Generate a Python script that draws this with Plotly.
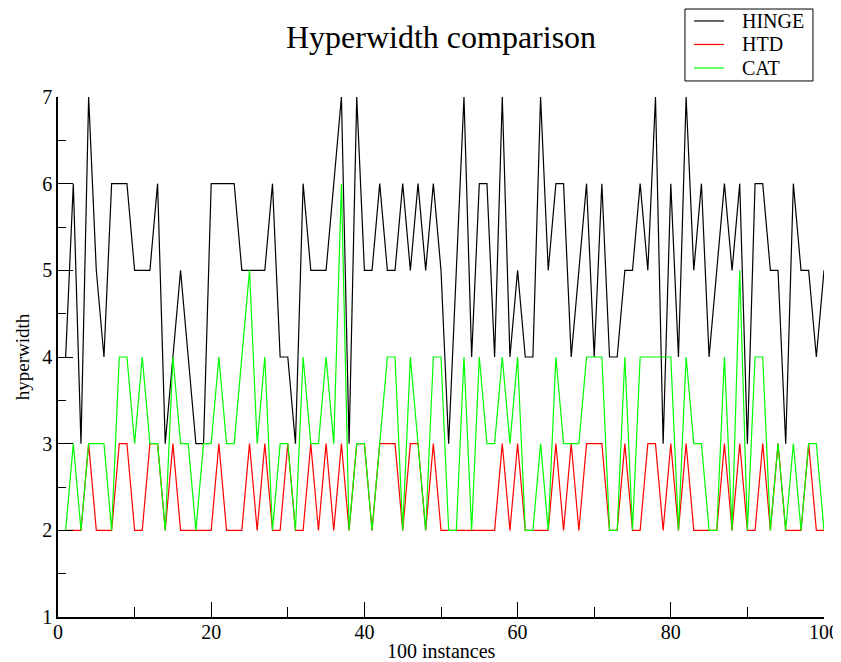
import plotly.graph_objects as go

instances = list(range(1, 101))

hinge = [4, 6, 3, 7, 5, 4, 6, 6, 6, 5,
         5, 5, 6, 3, 4, 5, 4, 3, 3, 6,
         6, 6, 6, 5, 5, 5, 5, 6, 4, 4,
         3, 6, 5, 5, 5, 6, 7, 3, 7, 5,
         5, 6, 5, 5, 6, 5, 6, 5, 6, 5,
         3, 5, 7, 4, 6, 6, 4, 7, 4, 5,
         4, 4, 7, 5, 6, 6, 4, 5, 6, 4,
         6, 4, 4, 5, 5, 6, 5, 7, 3, 6,
         4, 7, 5, 6, 4, 5, 6, 5, 6, 3,
         6, 6, 5, 5, 3, 6, 5, 5, 4, 5]

htd = [2, 2, 2, 3, 2, 2, 2, 3, 3, 2,
       2, 3, 3, 2, 3, 2, 2, 2, 2, 2,
       3, 2, 2, 2, 3, 2, 3, 2, 2, 3,
       2, 2, 3, 2, 3, 2, 3, 2, 3, 3,
       2, 3, 3, 3, 2, 3, 3, 2, 3, 2,
       2, 2, 2, 2, 2, 2, 2, 3, 2, 3,
       2, 2, 2, 2, 3, 2, 3, 2, 3, 3,
       3, 2, 2, 3, 2, 2, 3, 3, 2, 3,
       2, 3, 2, 2, 2, 2, 3, 2, 3, 2,
       2, 3, 2, 3, 2, 2, 2, 3, 2, 2]

cat = [2, 3, 2, 3, 3, 3, 2, 4, 4, 3,
       4, 3, 3, 2, 4, 3, 3, 2, 3, 3,
       4, 3, 3, 4, 5, 3, 4, 2, 3, 3,
       2, 4, 3, 3, 4, 3, 6, 2, 3, 3,
       2, 3, 4, 4, 2, 4, 3, 2, 4, 4,
       2, 2, 4, 2, 4, 3, 3, 4, 3, 4,
       2, 2, 3, 2, 4, 3, 3, 3, 4, 4,
       4, 2, 2, 4, 2, 4, 4, 4, 4, 4,
       2, 4, 3, 3, 2, 2, 4, 2, 5, 2,
       4, 4, 2, 3, 2, 3, 2, 3, 3, 2]

series_names = ["HINGE", "HTD", "CAT"]
series_colors = ["#000000", "#ff0000", "#00ff00"]
x_ticks = [0, 20, 40, 60, 80, 100]
y_ticks = [1, 2, 3, 4, 5, 6, 7]

FONT = "Liberation Serif"

fig = go.Figure()
for name, vals, col in zip(series_names, [hinge, htd, cat], series_colors):
    fig.add_trace(go.Scatter(x=instances, y=vals, mode="lines", name=name,
                             line=dict(color=col, width=1.2), showlegend=False))

# Legend box drawn in paper coordinates (compact, xmgrace-style)
legend_rows_y = [1.1462, 1.1010, 1.0558]
fig.add_shape(type="rect", xref="paper", yref="paper",
              x0=0.8185, x1=0.9856, y0=1.0308, y1=1.1692,
              line=dict(color="black", width=1), fillcolor="white")
for name, col, yy in zip(series_names, series_colors, legend_rows_y):
    fig.add_shape(type="line", xref="paper", yref="paper",
                  x0=0.8303, x1=0.8695, y0=yy, y1=yy,
                  line=dict(color=col, width=1.2))
    fig.add_annotation(text=name, xref="paper", yref="paper", x=0.8903, y=yy,
                       xanchor="left", yanchor="middle", showarrow=False,
                       font=dict(family=FONT, size=20, color="black"))

# x-axis title
fig.add_annotation(text="100 instances", xref="paper", yref="paper", x=0.5, y=-0.0654,
                   xanchor="center", yanchor="middle", showarrow=False,
                   font=dict(family=FONT, size=20, color="black"))

fig.update_layout(
    width=833, height=654,
    margin=dict(l=50, r=17, t=89, b=45, autoexpand=False),
    plot_bgcolor="white", paper_bgcolor="white",
    font=dict(family=FONT, color="black", size=20),
    title=dict(text="Hyperwidth comparison", x=0.5, xanchor="center",
               xref="paper", y=0.956, yanchor="middle",
               font=dict(family=FONT, size=32, color="black")),
    showlegend=False,
)

fig.update_xaxes(
    range=[0, 100], tickvals=x_ticks, ticktext=[str(v) for v in x_ticks],
    ticks="inside", ticklen=15, tickwidth=1, tickcolor="black",
    minor=dict(dtick=10, tick0=0, ticks="inside", ticklen=10, tickwidth=1, tickcolor="black"),
    showline=True, linecolor="black", linewidth=1.5, mirror=False,
    showgrid=False, zeroline=False, automargin=False,
    ticklabelstandoff=-4, ticklabeloverflow="allow",
    tickfont=dict(family=FONT, size=20, color="black"),
)
fig.update_yaxes(
    range=[1, 7], tickvals=y_ticks, ticktext=[str(v) for v in y_ticks],
    ticks="inside", ticklen=15, tickwidth=1, tickcolor="black",
    minor=dict(dtick=0.5, tick0=1, ticks="inside", ticklen=8, tickwidth=1, tickcolor="black"),
    showline=True, linecolor="black", linewidth=1.5, mirror=False,
    showgrid=False, zeroline=False, automargin=False,
    tickfont=dict(family=FONT, size=20, color="black"),
    title=dict(text="hyperwidth", font=dict(family=FONT, size=19, color="black"), standoff=8),
)

fig.write_html("out.html", post_script="document.body.style.overflow='hidden';")
